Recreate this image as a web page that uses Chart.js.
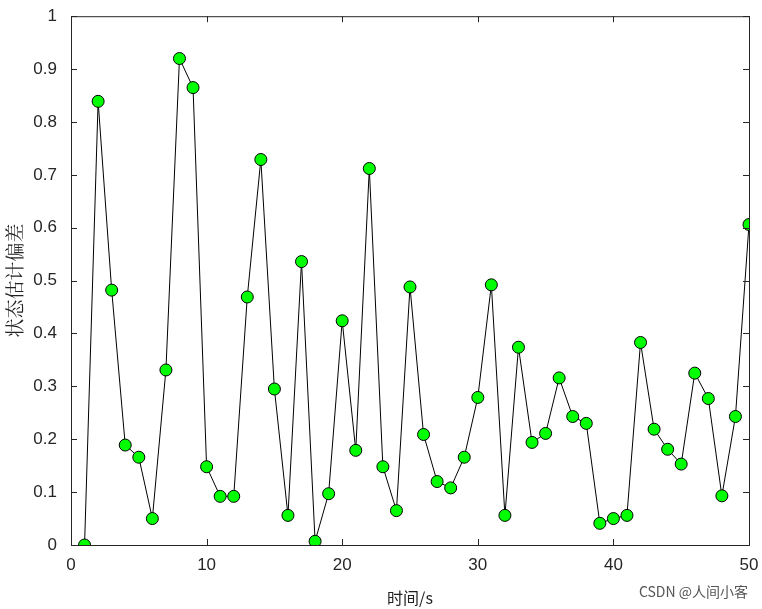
<!DOCTYPE html>
<html><head><meta charset="utf-8">
<script src="https://cdn.jsdelivr.net/npm/chart.js@4/dist/chart.umd.min.js"></script>
<style>html,body{margin:0;padding:0;background:#fff}#w{width:762px;height:609px;position:relative}</style>
</head><body><div id="w"><canvas id="c"></canvas></div>
<script>
const times=[1,2,3,4,5,6,7,8,9,10,11,12,13,14,15,16,17,18,19,20,21,22,23,24,25,26,27,28,29,30,31,32,33,34,35,36,37,38,39,40,41,42,43,44,45,46,47,48,49,50];
const errors=[0,0.839,0.482,0.189,0.166,0.05,0.331,0.92,0.865,0.148,0.092,0.092,0.469,0.729,0.295,0.056,0.536,0.007,0.097,0.424,0.179,0.712,0.148,0.065,0.488,0.209,0.12,0.108,0.166,0.279,0.492,0.056,0.374,0.194,0.211,0.316,0.243,0.23,0.041,0.05,0.056,0.383,0.219,0.181,0.153,0.325,0.277,0.093,0.243,0.606];
const xLabel='时间/s', yLabel='状态估计偏差';
const boxPlugin={id:'box',afterDraw(ch){const a=ch.chartArea,g=ch.ctx;g.save();g.strokeStyle='#262626';g.lineWidth=1;
g.strokeRect(a.left+0.5,a.top+0.5,a.right-a.left,a.bottom-a.top);
const xs=ch.scales.x,ys=ch.scales.y;g.beginPath();
for(let v=0;v<=50;v+=10){const p=Math.round(xs.getPixelForValue(v))+0.5;g.moveTo(p,a.bottom);g.lineTo(p,a.bottom-6);g.moveTo(p,a.top);g.lineTo(p,a.top+6);}
for(let i=0;i<=10;i++){const p=Math.round(ys.getPixelForValue(i/10))+0.5;g.moveTo(a.left,p);g.lineTo(a.left+6,p);g.moveTo(a.right,p);g.lineTo(a.right-6,p);}
g.stroke();
g.fillStyle='#222';g.font='16px "Noto Sans CJK SC"';g.textAlign='center';g.fillText(xLabel,(a.left+a.right)/2,604);
g.translate(22,(a.top+a.bottom)/2);g.rotate(-Math.PI/2);g.font='19px "Noto Serif CJK SC","Noto Sans CJK SC"';g.fillText(yLabel,0,0);
g.restore();g.save();g.fillStyle='#555';g.font='14px "Noto Sans CJK SC"';g.textAlign='right';g.fillText('CSDN @人间小客',748,597);g.restore();}};
new Chart(document.getElementById('c'),{type:'scatter',
data:{datasets:[{data:times.map((t,i)=>({x:t,y:errors[i]})),showLine:true,borderColor:'#000',borderWidth:1,
pointBackgroundColor:'#00ff00',pointBorderColor:'#000',pointBorderWidth:1,pointRadius:6,pointHoverRadius:6}]},
options:{responsive:true,maintainAspectRatio:false,animation:false,
layout:{padding:{top:10,right:13,left:0,bottom:0}},
plugins:{legend:{display:false},tooltip:{enabled:false}},
scales:{x:{type:'linear',min:0,max:50,grid:{display:false},border:{display:false},
ticks:{stepSize:10,color:'#262626',font:{family:'Liberation Sans',size:17},padding:2},
afterFit(s){s.height=64;}},
y:{min:0,max:1,grid:{display:false},border:{display:false},
ticks:{stepSize:0.1,color:'#262626',font:{family:'Liberation Sans',size:17},padding:6,callback:v=>String(Math.round(v*10)/10)},
afterFit(s){s.width=71;}}}},
plugins:[boxPlugin]});
</script></body></html>
